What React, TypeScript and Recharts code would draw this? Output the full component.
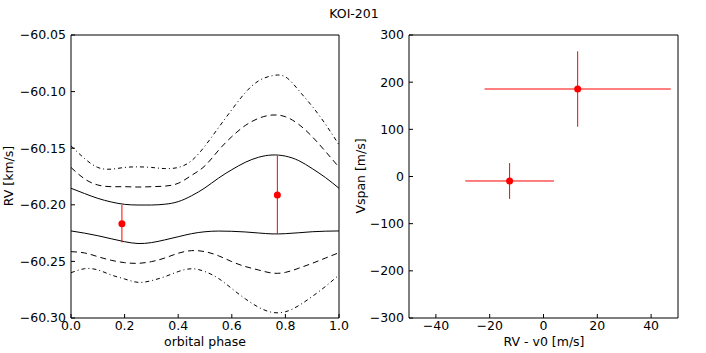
import React from "react"
import { ComposedChart, Line, Scatter, ErrorBar, XAxis, YAxis } from "recharts"

// model curves, every 0.05 in phase
const phase = [0, 0.05, 0.1, 0.15, 0.2, 0.25, 0.3, 0.35, 0.4, 0.45, 0.5, 0.55, 0.6, 0.65, 0.7, 0.75, 0.8, 0.85, 0.9, 0.95, 1.0]
const solidUpper = [-60.1854, -60.19, -60.1943, -60.1975, -60.1996, -60.2002, -60.2002, -60.1995, -60.1972, -60.192, -60.185, -60.1765, -60.169, -60.1625, -60.158, -60.156, -60.157, -60.161, -60.168, -60.176, -60.1854]
const solidLower = [-60.2231, -60.225, -60.2273, -60.23, -60.2326, -60.2342, -60.2334, -60.231, -60.2282, -60.2255, -60.2238, -60.2232, -60.2234, -60.224, -60.2249, -60.2257, -60.2255, -60.2247, -60.2238, -60.2233, -60.2231]
const dashUpper = [-60.167, -60.177, -60.1825, -60.184, -60.184, -60.1843, -60.184, -60.1835, -60.181, -60.174, -60.1655, -60.152, -60.1398, -60.13, -60.1236, -60.1207, -60.1222, -60.129, -60.1398, -60.153, -60.1668]
const dashLower = [-60.2414, -60.2425, -60.2458, -60.249, -60.2511, -60.2517, -60.2502, -60.247, -60.2428, -60.2405, -60.2414, -60.245, -60.2502, -60.2545, -60.2576, -60.2603, -60.2597, -60.256, -60.2517, -60.247, -60.2423]
const dotUpper = [-60.148, -60.159, -60.167, -60.1685, -60.167, -60.1665, -60.167, -60.168, -60.167, -60.161, -60.148, -60.132, -60.116, -60.101, -60.0905, -60.086, -60.087, -60.099, -60.113, -60.129, -60.147]
const dotLower = [-60.26, -60.2565, -60.2575, -60.262, -60.2655, -60.2685, -60.267, -60.2635, -60.259, -60.2565, -60.259, -60.265, -60.274, -60.283, -60.2905, -60.295, -60.2945, -60.289, -60.281, -60.272, -60.262]

// measurements
const obsPhase = [0.19, 0.77]
const obsRv = [-60.2167, -60.1913]
const obsRvErr = [0.0165, 0.0346]

const bisRv = [-12.6, 12.7]
const bisRvErr = [16.5, 34.6]
const bisVspan = [-9.5, 185.5]
const bisVspanErr = [38, 80]

const phaseTicks = [0, 0.2, 0.4, 0.6, 0.8, 1.0]
const rvTicks = [-60.3, -60.25, -60.2, -60.15, -60.1, -60.05]
const bisXTicks = [-40, -20, 0, 20, 40]
const bisYTicks = [-300, -200, -100, 0, 100, 200, 300]

const curves = phase.map((p, i) => ({
  phase: p,
  su: solidUpper[i],
  sl: solidLower[i],
  du: dashUpper[i],
  dl: dashLower[i],
  ddu: dotUpper[i],
  ddl: dotLower[i],
}))
const obs = obsPhase.map((p, i) => ({ phase: p, rv: obsRv[i], err: obsRvErr[i] }))
const bis = bisRv.map((x, i) => ({ rv: x, vspan: bisVspan[i], rvErr: bisRvErr[i], vspanErr: bisVspanErr[i] }))

const font = "DejaVu Sans"
const tickStyle = { fontSize: 12.5, fill: "#000", fontFamily: font }
const minus = (s: string) => s.replace("-", "\u2212")
const red = "#ff0000"

const dot = (props: any) => <circle cx={props.cx} cy={props.cy} r={3.5} fill={red} />

function RvPanel() {
  return (
    <ComposedChart width={350} height={353} data={curves} margin={{ top: 30, right: 10, bottom: 0, left: 0 }}>
      <XAxis dataKey="phase" type="number" domain={[0, 1]} ticks={phaseTicks} allowDataOverflow
        height={35} tickSize={-4} tickMargin={7} stroke="#000" tick={tickStyle} tickFormatter={(v) => v.toFixed(1)} />
      <XAxis xAxisId="top" orientation="top" type="number" domain={[0, 1]} ticks={phaseTicks} allowDataOverflow
        height={5} tickSize={-4} stroke="#000" tick={false} />
      <YAxis type="number" domain={[-60.3, -60.05]} ticks={rvTicks} allowDataOverflow width={71}
        tickSize={-4} tickMargin={9} stroke="#000" tick={tickStyle} tickFormatter={(v) => minus(v.toFixed(2))} />
      <YAxis yAxisId="right" orientation="right" type="number" domain={[-60.3, -60.05]} ticks={rvTicks} allowDataOverflow
        width={1} tickSize={-4} stroke="#000" tick={false} />
      <Line dataKey="su" type="natural" stroke="#000" strokeWidth={1} dot={false} isAnimationActive={false} />
      <Line dataKey="sl" type="natural" stroke="#000" strokeWidth={1} dot={false} isAnimationActive={false} />
      <Line dataKey="du" type="natural" stroke="#000" strokeWidth={1} strokeDasharray="6 4" dot={false} isAnimationActive={false} />
      <Line dataKey="dl" type="natural" stroke="#000" strokeWidth={1} strokeDasharray="6 4" dot={false} isAnimationActive={false} />
      <Line dataKey="ddu" type="natural" stroke="#000" strokeWidth={1} strokeDasharray="4 3 1 3" dot={false} isAnimationActive={false} />
      <Line dataKey="ddl" type="natural" stroke="#000" strokeWidth={1} strokeDasharray="4 3 1 3" dot={false} isAnimationActive={false} />
      <Scatter data={obs} dataKey="rv" shape={dot} isAnimationActive={false}>
        <ErrorBar dataKey="err" direction="y" width={0} stroke={red} strokeWidth={1} isAnimationActive={false} />
      </Scatter>
    </ComposedChart>
  )
}

function BisectorPanel() {
  return (
    <ComposedChart width={356} height={353} margin={{ top: 30, right: 27, bottom: 0, left: 0 }}>
      <XAxis dataKey="rv" type="number" domain={[-50, 50]} ticks={bisXTicks} allowDataOverflow
        height={35} tickSize={-4} tickMargin={7} stroke="#000" tick={tickStyle} tickFormatter={(v) => minus(String(v))} />
      <XAxis xAxisId="top" orientation="top" type="number" domain={[-50, 50]} ticks={bisXTicks} allowDataOverflow
        height={5} tickSize={-4} stroke="#000" tick={false} />
      <YAxis dataKey="vspan" type="number" domain={[-300, 300]} ticks={bisYTicks} allowDataOverflow width={59}
        tickSize={-4} tickMargin={9} stroke="#000" tick={tickStyle} tickFormatter={(v) => minus(String(v))} />
      <YAxis yAxisId="right" orientation="right" type="number" domain={[-300, 300]} ticks={bisYTicks} allowDataOverflow
        width={1} tickSize={-4} stroke="#000" tick={false} />
      <Scatter data={bis} dataKey="vspan" shape={dot} isAnimationActive={false}>
        <ErrorBar dataKey="rvErr" direction="x" width={0} stroke={red} strokeWidth={1} isAnimationActive={false} />
        <ErrorBar dataKey="vspanErr" direction="y" width={0} stroke={red} strokeWidth={1} isAnimationActive={false} />
      </Scatter>
    </ComposedChart>
  )
}

export default function App() {
  const label = { fontFamily: font, fontSize: 12.5, fill: "#000" }
  return (
    <div style={{ position: "absolute", left: 0, top: 0, width: 706, height: 353, background: "#fff" }}>
      <div style={{ position: "absolute", left: 0, top: 0 }}>
        <RvPanel />
      </div>
      <div style={{ position: "absolute", left: 350, top: 0 }}>
        <BisectorPanel />
      </div>
      <svg width={706} height={353} style={{ position: "absolute", left: 0, top: 0, pointerEvents: "none" }}>
        <text x={354} y={17.5} textAnchor="middle" style={label}>KOI-201</text>
        <text x={205} y={346} textAnchor="middle" style={label}>orbital phase</text>
        <text x={544} y={346} textAnchor="middle" style={label}>RV - v0 [m/s]</text>
        <text transform="translate(13,176) rotate(-90)" textAnchor="middle" style={label}>RV [km/s]</text>
        <text transform="translate(365,176) rotate(-90)" textAnchor="middle" style={label}>Vspan [m/s]</text>
      </svg>
    </div>
  )
}
